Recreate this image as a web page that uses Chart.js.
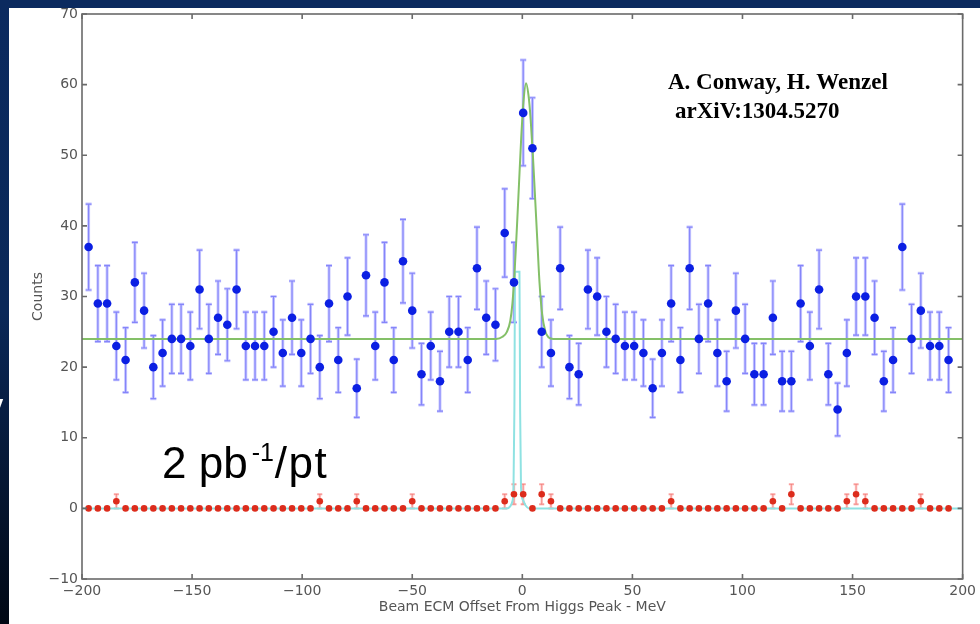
<!DOCTYPE html>
<html>
<head>
<meta charset="utf-8">
<script src="https://cdn.jsdelivr.net/npm/chart.js@4.4.1/dist/chart.umd.min.js"></script>
<style>
  html, body { margin: 0; padding: 0; background: #0b2a5f; }
  #wrap { width: 980px; height: 624px; }
</style>
</head>
<body>
<div id="wrap"><canvas id="scan" width="980" height="624"></canvas></div>
<script>
// beam energy offsets of the scan points (MeV)
var offsets = [
  -197, -192.8, -188.6, -184.4, -180.2, -176, -171.8, -167.6, -163.4, -159.2,
  -155, -150.8, -146.6, -142.4, -138.2, -134, -129.8, -125.6, -121.4, -117.2,
  -113, -108.8, -104.6, -100.4, -96.2, -92, -87.8, -83.6, -79.4, -75.2,
  -71, -66.8, -62.6, -58.4, -54.2, -50, -45.8, -41.6, -37.4, -33.2,
  -29, -24.8, -20.6, -16.4, -12.2, -8, -3.8, 0.4, 4.6, 8.8,
  13, 17.2, 21.4, 25.6, 29.8, 34, 38.2, 42.4, 46.6, 50.8,
  55, 59.2, 63.4, 67.6, 71.8, 76, 80.2, 84.4, 88.6, 92.8,
  97, 101.2, 105.4, 109.6, 113.8, 118, 122.2, 126.4, 130.6, 134.8,
  139, 143.2, 147.4, 151.6, 155.8, 160, 164.2, 168.4, 172.6, 176.8,
  181, 185.2, 189.4, 193.6
];

// blue points: counts per point
var higgsCounts = [
  37, 29, 29, 23, 21, 32, 28, 20, 22, 24,
  24, 23, 31, 24, 27, 26, 31, 23, 23, 23,
  25, 22, 27, 22, 24, 20, 29, 21, 30, 17,
  33, 23, 32, 21, 35, 28, 19, 23, 18, 25,
  25, 21, 34, 27, 26, 39, 32, 56, 51, 25,
  22, 34, 20, 19, 31, 30, 25, 24, 23, 23,
  22, 17, 22, 29, 21, 34, 24, 29, 22, 18,
  28, 24, 19, 19, 27, 18, 18, 29, 23, 31,
  19, 14, 22, 30, 30, 27, 18, 21, 37, 24,
  28, 23, 23, 21
];

// red points: counts per point
var otherCounts = [
  0, 0, 0, 1, 0, 0, 0, 0, 0, 0,
  0, 0, 0, 0, 0, 0, 0, 0, 0, 0,
  0, 0, 0, 0, 0, 1, 0, 0, 0, 1,
  0, 0, 0, 0, 0, 1, 0, 0, 0, 0,
  0, 0, 0, 0, 0, 1, 2, 2, 0, 2,
  1, 0, 0, 0, 0, 0, 0, 0, 0, 0,
  0, 0, 0, 1, 0, 0, 0, 0, 0, 0,
  0, 0, 0, 0, 1, 0, 2, 0, 0, 0,
  0, 0, 1, 2, 1, 0, 0, 0, 0, 0,
  1, 0, 0, 0
];

// fitted curves
var greenFitX = [-200, -12, -9, -7, -5.5, -4.5, -3.5, -2.5, -1.5, -0.5, 0.5, 1.7, 2.8, 3.8, 4.8, 5.8, 6.8, 7.8, 9, 10.5, 12, 14, 200];
var greenFitY = [24, 24, 24.3, 25, 26.5, 29, 33.5, 39.5, 46, 52.5, 57.5, 60.2, 58.5, 55, 50, 44, 38, 32, 27.5, 25, 24.2, 24, 24];
var cyanFitX = [-200, -7, -5.5, -4.5, -4, -3.6, -3.3, -1.3, -1, -0.6, 0.3, 1.5, 3, 200];
var cyanFitY = [0, 0, 0.3, 1, 3, 14, 33.5, 33.5, 14, 3, 1.2, 0.4, 0, 0];

var xTicks = [-200, -150, -100, -50, 0, 50, 100, 150, 200];
var yTicks = [-10, 0, 10, 20, 30, 40, 50, 60, 70];

function points(xs, ys, withErr) {
  return xs.map(function (x, i) {
    var p = { x: x, y: ys[i] };
    if (withErr) p.e = Math.sqrt(ys[i]);
    return p;
  });
}

function minusLabel(v) {
  return v < 0 ? "\u2212" + Math.abs(v) : String(v);
}

var slideBackground = {
  id: "slideBackground",
  beforeDraw: function (chart) {
    var c = chart.ctx;
    c.save();
    c.fillStyle = "#ffffff";
    c.fillRect(0, 0, chart.width, chart.height);
    c.restore();
  },
  afterDraw: function (chart) {
    var c = chart.ctx;
    c.save();
    c.fillStyle = "#0b2a5f";
    c.fillRect(0, 0, chart.width, 8);
    var g = c.createLinearGradient(0, 0, 0, chart.height);
    g.addColorStop(0, "#0b2a5f");
    g.addColorStop(0.5, "#0a2858");
    g.addColorStop(1, "#010814");
    c.fillStyle = g;
    c.fillRect(0, 0, 9, chart.height);
    // edge of a slide word that is cut off
    c.beginPath();
    c.rect(0, 0, 9, chart.height);
    c.clip();
    c.fillStyle = "#ffffff";
    c.font = "bold 22px 'Liberation Sans'";
    c.fillText("y", -9, 411);
    c.restore();
  }
};

var errorBars = {
  id: "errorBars",
  beforeDatasetsDraw: function (chart) {
    var c = chart.ctx, xs = chart.scales.x, ys = chart.scales.y;
    c.save();
    chart.data.datasets.forEach(function (ds) {
      if (!ds.errColors) return;
      ds.data.forEach(function (p) {
        if (!p.e) return;
        var px = xs.getPixelForValue(p.x);
        var top = ys.getPixelForValue(p.y + p.e);
        var bot = ys.getPixelForValue(p.y - p.e);
        ds.errColors.forEach(function (col, k) {
          c.strokeStyle = col;
          c.lineWidth = ds.errWidths[k];
          c.beginPath();
          c.moveTo(px, top);
          c.lineTo(px, bot);
          c.moveTo(px - ds.cap, top);
          c.lineTo(px + ds.cap, top);
          c.moveTo(px - ds.cap, bot);
          c.lineTo(px + ds.cap, bot);
          c.stroke();
        });
      });
    });
    c.restore();
  }
};

var frameAndNotes = {
  id: "frameAndNotes",
  afterDatasetsDraw: function (chart) {
    var c = chart.ctx, a = chart.chartArea;
    var xs = chart.scales.x, ys = chart.scales.y;
    c.save();
    c.strokeStyle = "#6a6a6a";
    c.lineWidth = 1.6;
    c.strokeRect(a.left, a.top, a.right - a.left, a.bottom - a.top);
    c.beginPath();
    xTicks.forEach(function (v) {
      var px = xs.getPixelForValue(v);
      c.moveTo(px, a.bottom); c.lineTo(px, a.bottom - 5);
      c.moveTo(px, a.top); c.lineTo(px, a.top + 5);
    });
    yTicks.forEach(function (v) {
      var py = ys.getPixelForValue(v);
      c.moveTo(a.left, py); c.lineTo(a.left + 5, py);
      c.moveTo(a.right, py); c.lineTo(a.right - 5, py);
    });
    c.stroke();

    c.fillStyle = "#000000";
    c.textBaseline = "alphabetic";
    c.textAlign = "left";
    c.font = "bold 23px 'Liberation Serif'";
    c.fillText("A. Conway, H. Wenzel", 668, 89);
    c.fillText("arXiV:1304.5270", 675, 118);

    var x = 162;
    c.font = "44px 'Liberation Sans'";
    c.fillText("2 pb", x, 478);
    x += c.measureText("2 pb").width + 4;
    c.font = "25px 'Liberation Sans'";
    c.fillText("-1", x, 461);
    x += c.measureText("-1").width + 1;
    c.font = "44px 'Liberation Sans'";
    c.letterSpacing = "1.5px";
    c.fillText("/pt", x, 478);
    c.restore();
  }
};

var tickFont = { family: "'DejaVu Sans'", size: 14 };

new Chart(document.getElementById("scan"), {
  type: "scatter",
  data: {
    datasets: [
      {
        label: "Higgs scan",
        data: points(offsets, higgsCounts, true),
        pointRadius: 4.3,
        pointBackgroundColor: "#0b1fe3",
        pointBorderWidth: 0,
        errColors: ["rgba(120,120,255,0.4)", "rgba(50,50,245,0.45)"],
        errWidths: [3, 1.2],
        cap: 3,
        order: 0
      },
      {
        label: "Other",
        data: points(offsets, otherCounts, true),
        pointRadius: 3.3,
        pointBackgroundColor: "#dc2c1c",
        pointBorderWidth: 0,
        errColors: ["rgba(255,120,120,0.4)", "rgba(230,60,50,0.4)"],
        errWidths: [2.6, 1],
        cap: 2.5,
        order: 1
      },
      {
        type: "line",
        label: "Signal fit",
        data: points(greenFitX, greenFitY, false),
        borderColor: "#84c068",
        borderWidth: 2,
        pointRadius: 0,
        cubicInterpolationMode: "monotone",
        order: 2
      },
      {
        type: "line",
        label: "Other fit",
        data: points(cyanFitX, cyanFitY, false),
        borderColor: "#8fe2e2",
        borderWidth: 2,
        pointRadius: 0,
        cubicInterpolationMode: "monotone",
        order: 3
      }
    ]
  },
  options: {
    responsive: false,
    animation: false,
    layout: { padding: { left: 9, top: 14, right: 17, bottom: 0 } },
    plugins: { legend: { display: false }, tooltip: { enabled: false } },
    scales: {
      x: {
        type: "linear",
        min: -200,
        max: 200,
        afterFit: function (s) { s.height = 45; },
        afterBuildTicks: function (s) { s.ticks = xTicks.map(function (v) { return { value: v }; }); },
        grid: { display: false, drawTicks: false },
        border: { display: false },
        ticks: { font: tickFont, color: "#555555", padding: 4, maxRotation: 0, callback: minusLabel },
        title: {
          display: true,
          text: "Beam ECM Offset From Higgs Peak - MeV",
          font: tickFont,
          color: "#555555",
          padding: { top: 0, bottom: 8 }
        }
      },
      y: {
        min: -10,
        max: 70,
        afterFit: function (s) { s.width = 73; },
        afterBuildTicks: function (s) { s.ticks = yTicks.map(function (v) { return { value: v }; }); },
        grid: { display: false, drawTicks: false },
        border: { display: false },
        ticks: { font: tickFont, color: "#555555", padding: 4, callback: minusLabel },
        title: {
          display: true,
          text: "Counts",
          font: tickFont,
          color: "#555555",
          padding: { top: 21, bottom: 0 }
        }
      }
    }
  },
  plugins: [slideBackground, errorBars, frameAndNotes]
});
</script>
</body>
</html>
